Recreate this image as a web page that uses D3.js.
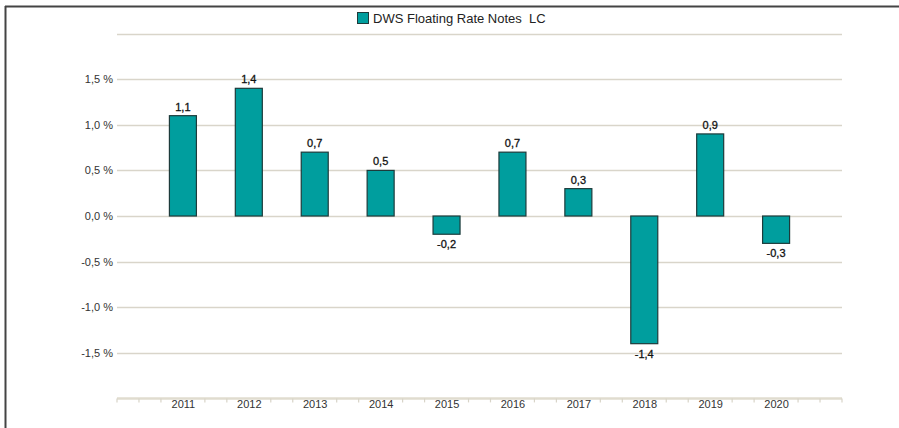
<!DOCTYPE html>
<html>
<head>
<meta charset="utf-8">
<script src="https://cdn.jsdelivr.net/npm/d3@7"></script>
<style>
  html, body { margin: 0; padding: 0; background: #fff; }
  svg { display: block; font-family: "Liberation Sans", Arial, sans-serif; }
</style>
</head>
<body>
<svg id="chart" width="899" height="428"></svg>
<script>
const categories = [2011, 2012, 2013, 2014, 2015, 2016, 2017, 2018, 2019, 2020];
const values = [1.1, 1.4, 0.7, 0.5, -0.2, 0.7, 0.3, -1.4, 0.9, -0.3];
const seriesName = "DWS Floating Rate Notes  LC";
const yTicks = [-1.5, -1.0, -0.5, 0.0, 0.5, 1.0, 1.5];
const gridValues = [-1.5, -1.0, -0.5, 0.0, 0.5, 1.0, 1.5, 2.0];

(function () {
const svg = d3.select("#chart");
const W = 899, H = 428;
const pLeft = 117, pRight = 842, pTop = 33.6, pBottom = 398.4;
const barColor = "#009e9e", barStroke = "#1d3b3b";
const fmt = v => d3.format(".1f")(v).replace(".", ",").replace("−", "-");

const x = d3.scaleLinear().domain([categories[0] - 1, categories[categories.length - 1] + 1]).range([pLeft, pRight]);
const y = d3.scaleLinear().domain([-2, 2]).range([pBottom, pTop]);

// frame
svg.append("line").attr("x1", 5).attr("x2", W).attr("y1", 6.5).attr("y2", 6.5).attr("stroke", "#444").attr("stroke-width", 2);
svg.append("line").attr("x1", 5.5).attr("x2", 5.5).attr("y1", 6).attr("y2", H).attr("stroke", "#444").attr("stroke-width", 2);

// grid
svg.append("g").selectAll("line").data(gridValues).join("line")
  .attr("x1", pLeft).attr("x2", pRight)
  .attr("y1", d => Math.round(y(d)) + 0.5).attr("y2", d => Math.round(y(d)) + 0.5)
  .attr("stroke", "#d9d5ca").attr("stroke-width", 1.3);

// y axis labels
const yAxis = d3.axisLeft(y).tickValues(yTicks).tickSize(0).tickPadding(4)
  .tickFormat(d => fmt(d) + " %");
const gy = svg.append("g").attr("transform", `translate(${pLeft},0)`).call(yAxis);
gy.select(".domain").remove();
gy.selectAll("text").attr("font-size", 11).attr("fill", "#333").attr("font-family", "Liberation Sans, Arial, sans-serif");

// x axis
const thirds = d3.range((categories.length + 2) * 3 - 2).map(i => x.domain()[0] + i / 3)
  .filter(v => Math.abs(v - Math.round(v)) > 1e-6 || v < categories[0] || v > categories[categories.length - 1]);
const gx = svg.append("g").attr("transform", `translate(0,${pBottom})`);
gx.append("line").attr("x1", pLeft).attr("x2", pRight).attr("y1", 0).attr("y2", 0)
  .attr("stroke", "#e0dccf").attr("stroke-width", 2.5);
gx.selectAll("line.tk").data(thirds).join("line").attr("class", "tk")
  .attr("x1", d => x(d)).attr("x2", d => x(d)).attr("y1", 0).attr("y2", 4)
  .attr("stroke", "#d8d4c8").attr("stroke-width", 1.2);
const xAxis = d3.axisBottom(x).tickValues(categories).tickSize(0).tickPadding(2).tickFormat(d3.format("d"));
const gxl = svg.append("g").attr("transform", `translate(0,${pBottom})`).call(xAxis);
gxl.select(".domain").remove();
gxl.selectAll("text").attr("font-size", 11).attr("fill", "#333").attr("font-family", "Liberation Sans, Arial, sans-serif");

// bars
const bw = 27;
svg.append("g").selectAll("rect").data(categories).join("rect")
  .attr("x", (d) => x(d) - bw / 2)
  .attr("y", (d, i) => y(Math.max(0, values[i])))
  .attr("width", bw)
  .attr("height", (d, i) => Math.abs(y(values[i]) - y(0)))
  .attr("fill", barColor).attr("stroke", barStroke).attr("stroke-width", 1.2);

// value labels
svg.append("g").selectAll("text").data(categories).join("text")
  .attr("x", d => x(d))
  .attr("y", (d, i) => values[i] >= 0 ? y(values[i]) - 5 : y(values[i]) + 14)
  .attr("text-anchor", "middle").attr("font-size", 11).attr("fill", "#111")
  .attr("stroke", "#111").attr("stroke-width", 0.3)
  .text((d, i) => fmt(values[i]));

// legend
const lg = svg.append("g").attr("transform", "translate(357,12)");
lg.append("rect").attr("x", 0.5).attr("y", 0.5).attr("width", 11).attr("height", 11)
  .attr("fill", barColor).attr("stroke", barStroke).attr("stroke-width", 1);
lg.append("text").attr("x", 16).attr("y", 10.5).attr("font-size", 13).attr("fill", "#222")
  .style("white-space", "pre").text(seriesName);
})();
</script>
</body>
</html>
